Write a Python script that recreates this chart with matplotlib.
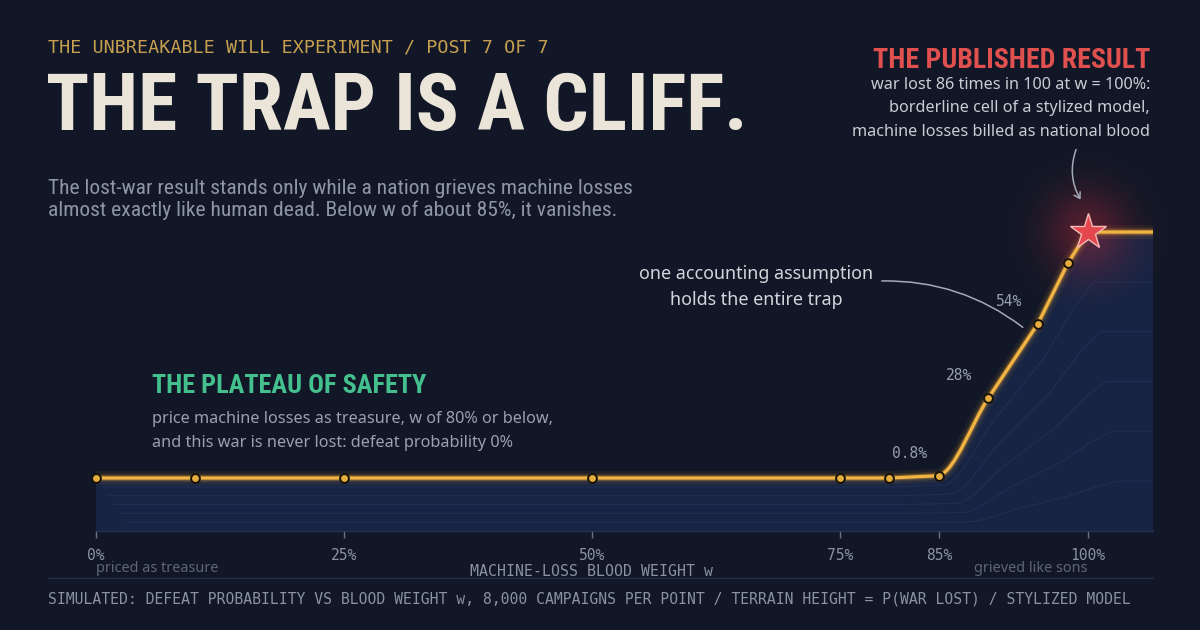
import numpy as np
import matplotlib
matplotlib.use("Agg")
import matplotlib.pyplot as plt
from matplotlib.path import Path
from matplotlib.patches import PathPatch, FancyArrowPatch
from matplotlib.transforms import Affine2D
from matplotlib.lines import Line2D
from matplotlib import font_manager as fm

# ---------------- data ----------------
w_pts = [0, 10, 25, 50, 75, 80, 85, 90, 95, 98, 100]          # blood weight w (%)
p_pts = [0, 0, 0, 0, 0, 0, 0.8, 28, 54, 75, 86]               # P(war lost) (%)
w_end = 106.6                                                  # flat terrain extends past 100%
label_w = [85, 90, 95]
label_txt = ["0.8%", "28%", "54%"]
tick_w = [0, 25, 50, 75, 85, 100]
tick_lbl = ["0%", "25%", "50%", "75%", "85%", "100%"]
star_w, star_p = 100, 86
knee_w = 85                                                    # where the curve rounds off

# ---------------- fonts ----------------
def avail(name):
    try:
        fm.findfont(fm.FontProperties(family=name), fallback_to_default=False)
        return True
    except Exception:
        return False

COND = next(f for f in ["Liberation Sans Narrow", "Roboto Condensed", "Open Sans Condensed", "DejaVu Sans"] if avail(f))
BODY = "Noto Sans" if avail("Noto Sans") else "DejaVu Sans"
SUBF = COND if COND != "DejaVu Sans" else BODY
MONO = "DejaVu Sans Mono"

BG = "#111726"
W, H = 1200, 630
fig = plt.figure(figsize=(12, 6.3), dpi=100, facecolor=BG)

def fx(x):
    return x / W

def fy(y):
    return 1 - y / H

# ---------------- axes ----------------
y_bot, y_top = -18.53, 97.2
ax = fig.add_axes([fx(96), fy(531), (1153 - 96) / W, (531 - 200) / H])
ax.set_facecolor("none")
ax.set_xlim(0, w_end)
ax.set_ylim(y_bot, y_top)
for s in ["top", "left", "right"]:
    ax.spines[s].set_visible(False)
ax.spines["bottom"].set_color("#27324f")
ax.spines["bottom"].set_linewidth(1.0)
ax.set_yticks([])
ax.set_xticks(tick_w, tick_lbl)
ax.tick_params(axis="x", length=5, width=1, color="#6b7487", labelcolor="#8a92a3",
               pad=7, labelsize=10.5, labelfontfamily=MONO)

# ---------------- terrain curve: straight runs, rounded knee ----------------
xs = np.array(w_pts + [w_end], dtype=float)
ys = np.array(p_pts + [p_pts[-1]], dtype=float)
h = np.diff(xs)
d = np.diff(ys) / h
verts = [(xs[0], ys[0])]
codes = [Path.MOVETO]
for i in range(len(xs) - 1):
    m0, m1 = d[i], d[i]
    if xs[i] == knee_w:
        m0, m1 = 1.0, d[i + 1] if i + 1 < len(d) else d[i]
    hh = h[i]
    verts += [(xs[i] + hh / 3, ys[i] + m0 * hh / 3),
              (xs[i + 1] - hh / 3, ys[i + 1] - m1 * hh / 3),
              (xs[i + 1], ys[i + 1])]
    codes += [Path.CURVE4] * 3
curve = Path(verts, codes)

fill_path = Path(verts + [(w_end, y_bot), (0, y_bot), (xs[0], ys[0])],
                 codes + [Path.LINETO, Path.LINETO, Path.CLOSEPOLY])
fill_patch = PathPatch(fill_path, facecolor="#172443", edgecolor="none", zorder=1)
ax.add_patch(fill_patch)

# terrain contour layers
for k in range(1, 6):
    s = 1 - k / 6
    tr = Affine2D().translate(0, -y_bot).scale(1, s).translate(0.6 * k, y_bot) + ax.transData
    lay = PathPatch(curve, transform=tr, fill=False, edgecolor="#2a3a63", lw=0.8,
                    alpha=0.5, zorder=1.5)
    ax.add_patch(lay)
    lay.set_clip_path(fill_patch)

# red glow around the published result
gx = np.linspace(-1, 1, 240)
GX, GY = np.meshgrid(gx, gx)
R = np.sqrt(GX ** 2 + GY ** 2)
glow = np.zeros((240, 240, 4))
glow[..., 0], glow[..., 1], glow[..., 2] = 0.66, 0.16, 0.22
glow[..., 3] = 0.45 * np.exp(-(R ** 2) * 4.0) * (R < 1)
ax.imshow(glow, extent=[star_w - 8.5, star_w + 8.5, star_p - 30, star_p + 30],
          aspect="auto", zorder=2, clip_on=False, interpolation="bilinear")

# golden line with glow
for lw, a in [(10, 0.07), (6, 0.14), (3.8, 0.3)]:
    ax.add_patch(PathPatch(curve, fill=False, edgecolor="#f0a530", lw=lw, alpha=a,
                           capstyle="round", joinstyle="round", zorder=3))
ax.add_patch(PathPatch(curve, fill=False, edgecolor="#f2b443", lw=2.3,
                       capstyle="round", joinstyle="round", zorder=3.2))

ax.scatter(w_pts[:-1], p_pts[:-1], s=40, facecolor="#e6ad3e", edgecolor="#17120a",
           linewidth=1.4, zorder=4, clip_on=False)
ax.plot([star_w], [star_p], marker="*", markersize=27, markerfacecolor="#e5474e",
        markeredgecolor="#f4b9b6", markeredgewidth=1.0, zorder=5, clip_on=False)

for wv, t in zip(label_w, label_txt):
    pv = p_pts[w_pts.index(wv)]
    ax.annotate(t, (wv, pv), xytext=(-21, 16), textcoords="offset points", ha="center",
                va="center", family=MONO, color="#98a0b0", fontsize=10.5, zorder=6)

# ---------------- texts ----------------
kicker = fig.text(fx(48), fy(52), "THE UNBREAKABLE WILL EXPERIMENT / POST 7 OF 7",
                  family=MONO, color="#c69f50", fontsize=12.8, va="baseline")
title = fig.text(fx(46), fy(130), "THE TRAP IS A CLIFF.", family=COND, weight="bold",
                 fontstretch="condensed", color="#ebe5d9", fontsize=60, va="baseline")
sub1 = fig.text(fx(48), fy(194), "The lost-war result stands only while a nation grieves machine losses",
                family=SUBF, color="#8e95a5", fontsize=13, va="baseline")
sub2 = fig.text(fx(48), fy(216), "almost exactly like human dead. Below w of about 85%, it vanishes.",
                family=SUBF, color="#8e95a5", fontsize=13, va="baseline")

pub = fig.text(fx(1150), fy(68), "THE PUBLISHED RESULT", family=COND, weight="bold",
               fontstretch="condensed", color="#e0504f", fontsize=24, va="baseline", ha="right")
r1 = fig.text(fx(1150), fy(89), "war lost 86 times in 100 at w = 100%:", family=BODY,
              color="#c9ccd3", fontsize=11.5, va="baseline", ha="right")
r2 = fig.text(fx(1150), fy(112), "borderline cell of a stylized model,", family=BODY,
              color="#c9ccd3", fontsize=11.5, va="baseline", ha="right")
r3 = fig.text(fx(1150), fy(136), "machine losses billed as national blood", family=BODY,
              color="#c9ccd3", fontsize=11.5, va="baseline", ha="right")

a1 = fig.text(fx(756), fy(279), "one accounting assumption", family=BODY, color="#d2d5db",
              fontsize=13, va="baseline", ha="center")
a2 = fig.text(fx(756), fy(305), "holds the entire trap", family=BODY, color="#d2d5db",
              fontsize=13, va="baseline", ha="center")

plat = fig.text(fx(152), fy(393), "THE PLATEAU OF SAFETY", family=COND, weight="bold",
                fontstretch="condensed", color="#44c08e", fontsize=24, va="baseline")
p1 = fig.text(fx(152), fy(423), "price machine losses as treasure, w of 80% or below,",
              family=BODY, color="#9aa0ad", fontsize=11.5, va="baseline")
p2 = fig.text(fx(152), fy(447), "and this war is never lost: defeat probability 0%",
              family=BODY, color="#9aa0ad", fontsize=11.5, va="baseline")

pr = fig.text(fx(96), fy(572), "priced as treasure", family=BODY, color="#5d6679",
              fontsize=10.5, va="baseline")
gr = fig.text(fx(1088), fy(572), "grieved like sons", family=BODY, color="#5d6679",
              fontsize=10.5, va="baseline", ha="right")
fig.text(fx(592), fy(576), "MACHINE-LOSS BLOOD WEIGHT w", family=MONO, color="#8a92a3",
         fontsize=10.7, va="baseline", ha="center")
foot = fig.text(fx(48), fy(603),
                "SIMULATED: DEFEAT PROBABILITY VS BLOOD WEIGHT w, 8,000 CAMPAIGNS PER POINT / "
                "TERRAIN HEIGHT = P(WAR LOST) / STYLIZED MODEL",
                family=MONO, color="#8a92a3", fontsize=10.7, va="baseline")

fig.add_artist(Line2D([fx(48), fx(1153)], [fy(578), fy(578)], color="#252f4b", lw=1.0))

# connectors
fig.add_artist(FancyArrowPatch((fx(879), fy(281)), (fx(1025), fy(329)),
                               transform=fig.transFigure, arrowstyle="-",
                               connectionstyle="arc3,rad=-0.18", color="#a3aab8", lw=1.1))
fig.add_artist(FancyArrowPatch((fx(1077), fy(147)), (fx(1082), fy(202)),
                               transform=fig.transFigure,
                               arrowstyle="->,head_length=4,head_width=2.5",
                               connectionstyle="arc3,rad=0.25", color="#a3aab8", lw=1.1))

# ---------------- fit text widths to the reference layout ----------------
fig.canvas.draw()
rend = fig.canvas.get_renderer()

def fit(t, target, others=()):
    bb = t.get_window_extent(rend)
    size = t.get_fontsize() * target / bb.width
    t.set_fontsize(size)
    for o in others:
        o.set_fontsize(size)

fit(kicker, 494)
fit(title, 702)
fit(sub1, 582, [sub2])
fit(pub, 278)
fit(r3, 298, [r1, r2])
fit(a1, 235, [a2])
fit(plat, 275)
fit(p1, 401, [p2])
fit(pr, 123, [gr])
fit(foot, 1095)

fig.savefig("out.png", dpi=100, facecolor=BG)
